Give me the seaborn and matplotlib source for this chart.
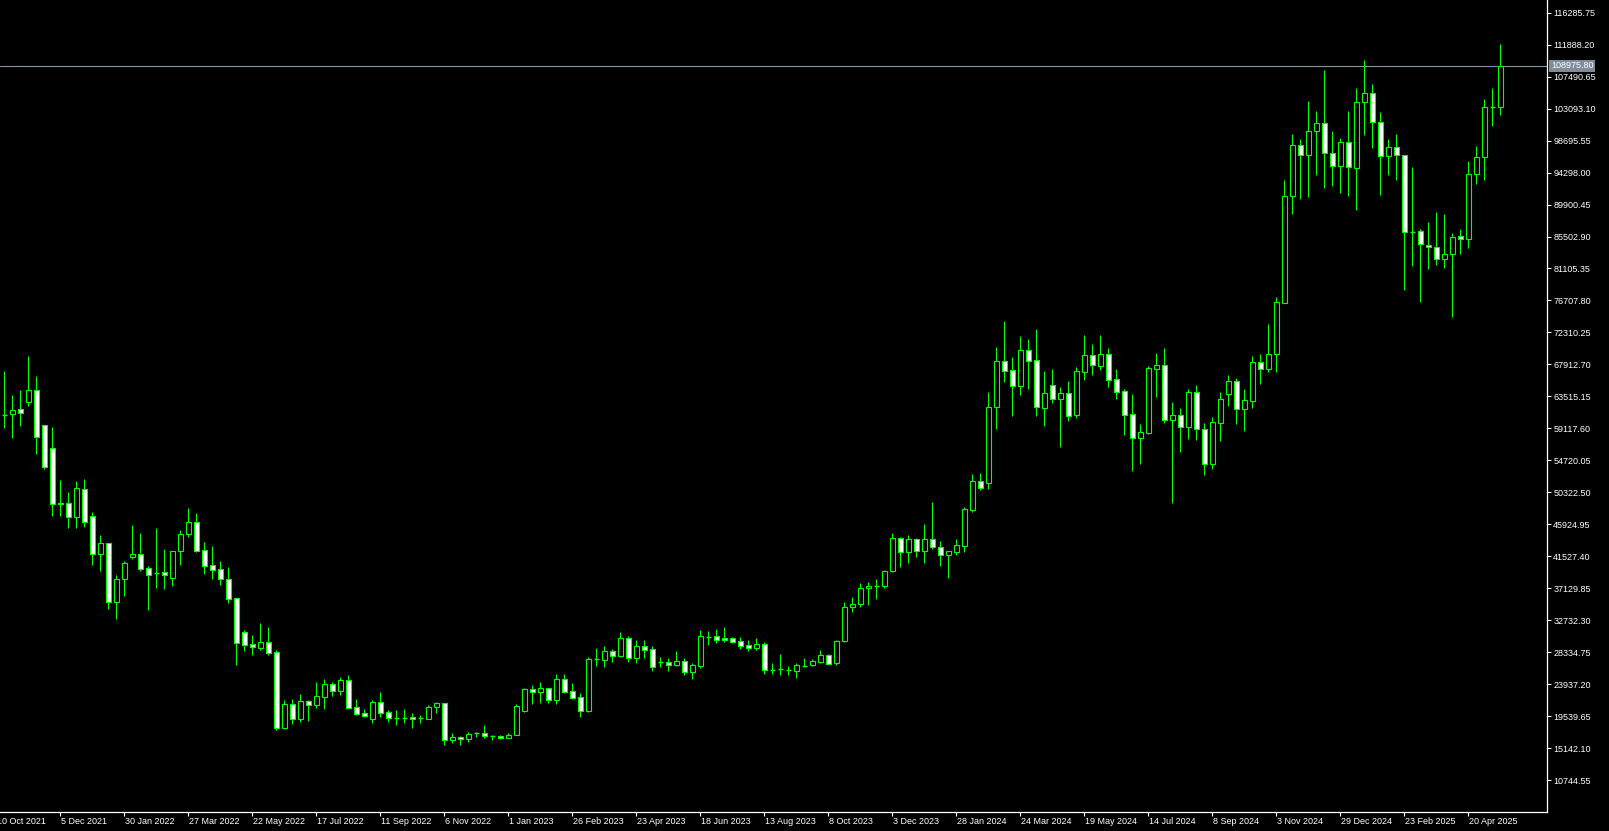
import numpy as np
import pandas as pd
import seaborn as sns
import matplotlib
matplotlib.use("Agg")
import matplotlib.pyplot as plt

# weekly OHLC (weeks starting 17 Oct 2021)
opens = [61050, 61050, 61740, 62780, 64350, 59540, 56370, 48900, 48810, 46880,
         50730, 47020, 41790, 43310, 35270, 38360, 41460, 41790, 39870, 39250,
         39320, 38580, 42210, 44550, 46200, 42340, 40280, 39730, 38360, 35740,
         31070, 29420, 28950, 29690, 28320, 17900, 21160, 19100, 21620, 21070,
         22210, 23910, 22990, 24520, 20750, 19970, 19100, 21480, 20060, 19250,
         19300, 19420, 19240, 19180, 20750, 21300, 16300, 16650, 16450, 17100,
         17150, 16750, 16850, 16550, 16950, 20240, 23270, 22860, 23360, 21800,
         24600, 22990, 22120, 20280, 27400, 27300, 28490, 27810, 30240, 27570,
         29180, 28730, 26980, 26980, 26570, 27120, 25650, 26430, 30520, 30520,
         30240, 30240, 29870, 29320, 28910, 29420, 25920, 25900, 25880, 25780,
         26470, 26530, 26980, 27900, 26850, 29900, 34500, 35000, 37100, 37400,
         37450, 39500, 43990, 42150, 43900, 42290, 43860, 42840, 41660, 42150,
         42930, 47930, 51830, 51550, 62010, 68340, 67100, 64980, 69890, 68480,
         61960, 65040, 63200, 63940, 61000, 66910, 69160, 67730, 69300, 65860,
         64210, 61050, 57830, 58520, 67320, 67790, 60310, 60910, 59340, 64080,
         59080, 54210, 59890, 63800, 65590, 61740, 62920, 68200, 67300, 69300,
         76400, 91030, 98050, 96760, 99970, 101070, 96950, 95160, 98460, 94970,
         103960, 105200, 101210, 96540, 97770, 96670, 86080, 86220, 84380, 84020,
         82450, 83060, 85530, 85200, 94060, 96400, 103320, 103300]
highs = [67000, 63700, 64390, 69070, 66320, 59540, 59300, 52010, 50320, 51880,
         52150, 47570, 44450, 43400, 38910, 40870, 45820, 44720, 40140, 45370,
         42520, 42250, 45100, 48120, 47470, 43490, 42940, 40870, 40050, 35740,
         31340, 30690, 32300, 31790, 28630, 21750, 21890, 22540, 21750, 24230,
         24600, 24270, 24920, 25190, 21890, 20480, 21750, 22860, 20380, 20380,
         20520, 19930, 19690, 21030, 21480, 21340, 17150, 16800, 17400, 17400,
         18350, 17000, 16950, 17200, 21160, 23400, 23820, 24230, 23400, 25330,
         25330, 24090, 22720, 27630, 28910, 29180, 28730, 31110, 30560, 30010,
         30010, 29180, 27670, 27530, 28490, 27530, 26800, 31380, 31240, 31520,
         31790, 30420, 30420, 30010, 30280, 29730, 26800, 28080, 26430, 26800,
         27490, 27390, 28590, 28040, 30000, 35200, 35900, 37900, 37950, 38400,
         39700, 44720, 44200, 44450, 44040, 45960, 48990, 43580, 42300, 43860,
         48260, 52840, 52950, 64080, 70310, 73880, 68930, 71820, 71410, 72780,
         66960, 67280, 64760, 65630, 67510, 71960, 70680, 71960, 70170, 67280,
         64490, 63840, 59720, 67690, 69480, 70170, 62700, 61880, 64530, 65080,
         59850, 60640, 64080, 66450, 66040, 64530, 69030, 69400, 73450, 77140,
         93230, 99600, 98910, 104140, 102770, 108400, 100010, 99050, 102770, 105890,
         109780, 106480, 102630, 98910, 99600, 96670, 95060, 86490, 87460, 88830,
         88560, 85940, 86490, 95850, 97910, 104370, 105890, 111980]
lows = [59200, 57830, 59440, 62230, 55630, 53480, 47100, 47100, 45450, 45450,
        45590, 40320, 39540, 34310, 32940, 36100, 41190, 39460, 34170, 37200,
        37060, 37480, 40360, 44130, 42150, 39130, 38440, 37610, 35100, 26570,
        28490, 27940, 28630, 27940, 17600, 17700, 18400, 18700, 18900, 20700,
        20520, 22300, 22440, 20600, 19690, 19380, 18600, 19380, 18730, 18320,
        18630, 17940, 18550, 19100, 20010, 15600, 15800, 15500, 16000, 16700,
        16550, 16300, 16400, 16500, 16900, 20150, 21210, 21350, 21380, 21250,
        22680, 21850, 19460, 20140, 26470, 26330, 26980, 27710, 26980, 26840,
        27570, 25740, 26290, 25740, 26470, 25190, 24680, 26200, 29320, 29640,
        29770, 29550, 28770, 28490, 28630, 25330, 25290, 25190, 25190, 24820,
        26290, 26390, 26880, 26660, 26550, 29700, 33900, 34500, 34800, 35600,
        37100, 39300, 40090, 40560, 41460, 40640, 42480, 40230, 38500, 41660,
        42150, 47570, 50600, 50820, 59070, 65530, 60770, 63700, 64490, 60860,
        59480, 62650, 56560, 60170, 60580, 65810, 66500, 67180, 64850, 63200,
        58240, 53290, 54250, 58300, 63470, 59890, 48900, 55910, 57650, 57510,
        52650, 53590, 57380, 62230, 59760, 58790, 61960, 65200, 66800, 66800,
        76320, 88640, 90700, 90980, 94000, 92220, 92490, 91530, 91120, 89190,
        99510, 97720, 91250, 94000, 93320, 78190, 81490, 76540, 81080, 81630,
        81210, 74470, 83060, 83960, 92770, 93320, 100740, 102200]
closes = [60950, 61600, 61190, 64350, 57890, 53840, 48670, 48750, 46880, 50870,
          46280, 41790, 43310, 35270, 38360, 40560, 41790, 39810, 38910, 39200,
          38990, 42250, 44550, 46200, 42290, 40230, 39680, 38360, 35690, 29640,
          29360, 29000, 29690, 28220, 17900, 21200, 19100, 21620, 21110, 22260,
          23960, 23030, 24520, 20700, 19830, 19600, 21520, 19930, 19210, 19240,
          19330, 19100, 19230, 20790, 21340, 16300, 16650, 16450, 17100, 17150,
          16750, 16850, 16550, 16950, 20930, 23270, 22900, 23400, 21800, 24640,
          22900, 22070, 20280, 27390, 27350, 28490, 27850, 30240, 27570, 29180,
          28670, 26330, 26950, 26610, 27120, 25650, 26570, 30520, 30480, 30050,
          30050, 29770, 29220, 28910, 29420, 25920, 25880, 25950, 25850, 26530,
          26450, 27120, 27900, 26750, 29900, 34500, 35000, 37100, 37400, 37450,
          39500, 43990, 42150, 43900, 42290, 43900, 42840, 41660, 42200, 43020,
          48020, 51830, 50950, 62010, 68340, 67050, 64980, 69890, 68420, 62010,
          63940, 63200, 63940, 60770, 67000, 69160, 67790, 69300, 65810, 64160,
          61000, 57830, 58570, 67420, 67790, 60310, 60910, 59340, 64080, 59030,
          54270, 59950, 63110, 65590, 61740, 62980, 68200, 67250, 69300, 76450,
          91030, 98050, 96760, 99970, 101070, 96950, 95160, 98460, 95020, 103960,
          105200, 101210, 96540, 97770, 96670, 86080, 86120, 84430, 84020, 82450,
          83060, 85480, 85200, 94060, 96400, 103270, 103300, 108976]

# x-axis labels every 8 weeks; first one belongs to the week before the first bar
tick_labels = ["10 Oct 2021", "5 Dec 2021", "30 Jan 2022", "27 Mar 2022", "22 May 2022",
               "17 Jul 2022", "11 Sep 2022", "6 Nov 2022", "1 Jan 2023", "26 Feb 2023",
               "23 Apr 2023", "18 Jun 2023", "13 Aug 2023", "8 Oct 2023", "3 Dec 2023",
               "28 Jan 2024", "24 Mar 2024", "19 May 2024", "14 Jul 2024", "8 Sep 2024",
               "3 Nov 2024", "29 Dec 2024", "23 Feb 2025", "20 Apr 2025"]
price_ticks = [10744.55, 15142.10, 19539.65, 23937.20, 28334.75, 32732.30, 37129.85,
               41527.40, 45924.95, 50322.50, 54720.05, 59117.60, 63515.15, 67912.70,
               72310.25, 76707.80, 81105.35, 85502.90, 89900.45, 94298.00, 98695.55,
               103093.10, 107490.65, 111888.20, 116285.75]
last_price = 108975.80

df = pd.DataFrame({"open": opens, "high": highs, "low": lows, "close": closes})
df["week"] = pd.date_range("2021-10-17", periods=len(df), freq="7D")
df["x"] = np.arange(len(df))
df["bear"] = df["close"] < df["open"]
df["doji"] = (df["close"] - df["open"]).abs() < 110

green = "#00ff00"

sns.set_theme(style="dark", rc={"figure.facecolor": "black", "axes.facecolor": "black",
                                "savefig.facecolor": "black"})
plt.rcParams["font.family"] = ["Liberation Sans", "DejaVu Sans"]

W, H = 1609, 831
fig = plt.figure(figsize=(W / 100, H / 100), dpi=100)
ax = fig.add_axes([0, (H - 812) / H, 1547 / W, 812 / H])

# wicks
ax.vlines(df["x"], df["low"], df["high"], color=green, lw=0.8, zorder=2)

# bodies
body = df[~df["doji"]]
ax.bar(body["x"], (body["close"] - body["open"]).abs(),
       bottom=body[["open", "close"]].min(axis=1), width=0.6,
       color=np.where(body["bear"], "white", "black"),
       edgecolor=green, linewidth=0.8, zorder=3)
dj = df[df["doji"]]
ax.hlines(dj["close"], dj["x"] - 0.3, dj["x"] + 0.3, color=green, lw=1.0, zorder=3)

# current price line + tag
ax.axhline(last_price, color="#8794a2", lw=0.8, zorder=1)
ax.text(1.0 + 4 / 1547, last_price, f"{last_price:.2f}", transform=ax.get_yaxis_transform(),
        ha="left", va="center", fontsize=6.5, color="white", clip_on=False,
        bbox=dict(boxstyle="square,pad=0.2", fc="#7f8c99", ec="none"))

ax.set_xlim(-0.54, 192.84)
ax.set_ylim(6350, 118032)

for s in ["left", "top"]:
    ax.spines[s].set_visible(False)
for s in ["right", "bottom"]:
    ax.spines[s].set_visible(True)
    ax.spines[s].set_color("white")
    ax.spines[s].set_linewidth(0.9)

ax.yaxis.tick_right()
ax.set_yticks(price_ticks)
ax.set_yticklabels([f"{v:.2f}" for v in price_ticks])
ax.tick_params(axis="y", colors="white", length=3, width=0.8, pad=1.5,
               labelsize=6.5, direction="out", right=True, left=False)

tick_pos = np.arange(-1, len(df), 8)
ax.set_xticks(tick_pos[tick_pos >= 0])
ax.set_xticklabels([])
ax.tick_params(axis="x", colors="white", length=3, width=0.8, direction="out", bottom=True)
for pos, lab in zip(tick_pos, tick_labels):
    ax.text(pos + 0.05, -10 / 812, lab, transform=ax.get_xaxis_transform(),
            ha="left", va="center", fontsize=6.5, color="white", clip_on=False)

ax.grid(False)
fig.savefig("out.png", dpi=100, facecolor="black")
